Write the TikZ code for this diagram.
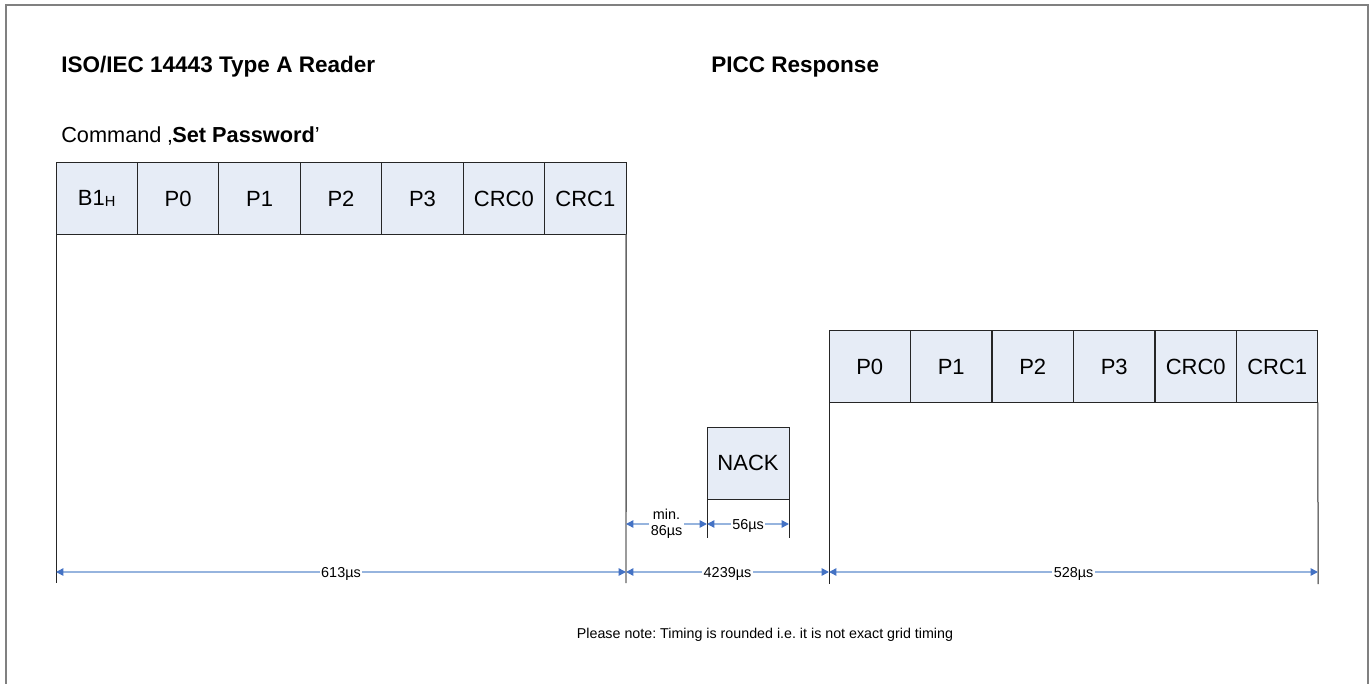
\documentclass[tikz,border=0pt]{standalone}
\usepackage{fontspec}
\setmainfont{Liberation Sans}
\usetikzlibrary{arrows.meta}
\definecolor{cellfill}{RGB}{230,236,246}
\definecolor{dimline}{RGB}{150,180,222}
\definecolor{dimtip}{RGB}{68,114,196}
\definecolor{framegray}{RGB}{128,128,128}
\frenchspacing
\begin{document}
\begin{tikzpicture}[x=0.75pt,y=-0.75pt,
  cell/.style={draw=black!85, line width=0.75pt, fill=cellfill, minimum width=61.1pt, minimum height=53.5pt, inner sep=0pt, outer sep=0pt, anchor=north west, font=\fontsize{16.5}{18}\selectfont},
  ext/.style={draw=black!85, line width=0.75pt},
  dim/.style={draw=dimline, line width=1.1pt, {Triangle[length=5.5pt,width=5.5pt,color=dimtip]}-{Triangle[length=5.5pt,width=5.5pt,color=dimtip]}},
  lbl/.style={fill=white, inner sep=1pt, text depth=0pt, font=\fontsize{10.8}{12}\selectfont},
  lbltwo/.style={fill=white, inner sep=1pt, align=center, font=\fontsize{10.8}{12}\selectfont},
  title/.style={anchor=base west, inner sep=0pt, font=\bfseries\fontsize{16.9}{20}\selectfont}
]
\useasboundingbox (0,0) rectangle (1371,684);
% frame
\draw[framegray, line width=1.5pt] (6,700) -- (6,5) -- (1368,5) -- (1368,700);

% titles
\node[title] (t1) at (61,73) {ISO/IEC 14443 Type A Reader};
\node[title] (t2) at (711,73) {PICC Response};
\node[anchor=base west, inner sep=0pt, font=\fontsize{16.3}{20}\selectfont] (cmd) at (61,143) {Command ‚\textbf{Set Password}’};

% reader command cells
\node[cell] (l0) at (56,163) {B1\raisebox{-0.6pt}{\fontsize{11}{11}\selectfont H}};
\node[cell] (l1) at (137.43,163) {P0};
\node[cell] (l2) at (218.86,163) {P1};
\node[cell] (l3) at (300.29,163) {P2};
\node[cell] (l4) at (381.72,163) {P3};
\node[cell] (l5) at (463.15,163) {CRC0};
\node[cell] (l6) at (544.58,163) {CRC1};

% PICC response cells
\node[cell] (r0) at (829,331) {P0};
\node[cell] (r1) at (910.5,331) {P1};
\node[cell] (r2) at (992,331) {P2};
\node[cell] (r3) at (1073.5,331) {P3};
\node[cell] (r4) at (1155,331) {CRC0};
\node[cell] (r5) at (1236.5,331) {CRC1};

% NACK
\node[cell, minimum width=61.5pt, minimum height=54pt] (nack) at (707,427) {NACK};

% extension line ends
\coordinate (lxa) at (56,583);
\coordinate (lxb) at (626,583);
\coordinate (rxa) at (829,584);
\coordinate (rxb) at (1318,584);
\coordinate (nxa) at (707,538);
\coordinate (nxb) at (789,538);
\draw[ext] (l0.south west) -- (lxa);
\draw[ext, draw=black!60, line width=1.1pt] (l6.south east) -- (lxb);
\draw[ext] (r0.south west) -- (rxa);
\draw[ext] (r5.south east) -- (rxb);
\draw[ext] (nack.south west) -- (nxa);
\draw[ext] (nack.south east) -- (nxb);

% dimension points
\coordinate (da) at (56,572);
\coordinate (db) at (626,572);
\coordinate (dc) at (829,572);
\coordinate (dd) at (1318,572);
\coordinate (na) at (626,524);
\coordinate (nb) at (707,524);
\coordinate (nc) at (789,524);

\draw[dim] (da) -- node[lbl] (m1) {613µs} (db);
\draw[dim] (db) -- node[lbl] (m2) {4239µs} (dc);
\draw[dim] (dc) -- node[lbl] (m3) {528µs} (dd);
\draw[dim] (na) -- node[lbltwo] (m4) {min.\\86µs} (nb);
\draw[dim] (nb) -- node[lbl] (m5) {56µs} (nc);

% note
\node[anchor=base, inner sep=0pt, font=\fontsize{10.7}{12}\selectfont] (note) at (765,638) {Please note: Timing is rounded i.e. it is not exact grid timing};
\end{tikzpicture}
\end{document}
